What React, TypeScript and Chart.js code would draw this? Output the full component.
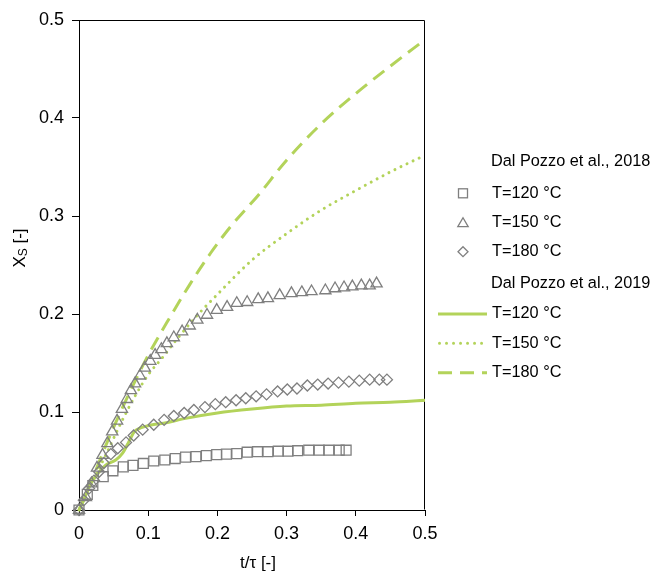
import { useEffect, useRef } from 'react';
import { Chart, registerables } from 'chart.js';

Chart.register(...registerables);

// ---- Data: Dal Pozzo et al., 2018 (experimental markers) ----
const sq120T = [0, 0.012, 0.02, 0.035, 0.049, 0.064, 0.078, 0.093, 0.108, 0.124, 0.139, 0.154, 0.169, 0.184, 0.199, 0.213, 0.228, 0.243, 0.258, 0.273, 0.288, 0.302, 0.316, 0.332, 0.347, 0.361, 0.376, 0.386];
const sq120X = [0, 0.016, 0.025, 0.034, 0.04, 0.044, 0.0455, 0.0475, 0.05, 0.051, 0.0525, 0.054, 0.0545, 0.0555, 0.0565, 0.057, 0.0575, 0.059, 0.0595, 0.0595, 0.06, 0.06, 0.0605, 0.061, 0.061, 0.061, 0.061, 0.061];

const tri150T = [0, 0.01, 0.018, 0.026, 0.034, 0.041, 0.048, 0.055, 0.062, 0.069, 0.075, 0.081, 0.088, 0.095, 0.103, 0.11, 0.119, 0.127, 0.137, 0.149, 0.16, 0.171, 0.185, 0.199, 0.214, 0.228, 0.243, 0.259, 0.273, 0.29, 0.307, 0.322, 0.336, 0.356, 0.37, 0.383, 0.395, 0.408, 0.42, 0.43];
const tri150X = [0, 0.013, 0.027, 0.043, 0.056, 0.068, 0.08, 0.091, 0.103, 0.113, 0.122, 0.129, 0.137, 0.145, 0.152, 0.158, 0.164, 0.17, 0.176, 0.182, 0.188, 0.194, 0.199, 0.204, 0.207, 0.211, 0.212, 0.215, 0.216, 0.219, 0.221, 0.222, 0.223, 0.224, 0.226, 0.227, 0.228, 0.229, 0.229, 0.231];

const dia180T = [0, 0.007, 0.0145, 0.0217, 0.029, 0.036, 0.046, 0.056, 0.068, 0.079, 0.092, 0.108, 0.123, 0.137, 0.152, 0.166, 0.182, 0.197, 0.212, 0.227, 0.241, 0.256, 0.271, 0.287, 0.301, 0.315, 0.33, 0.345, 0.36, 0.375, 0.39, 0.405, 0.42, 0.434, 0.445];
const dia180X = [0, 0.01, 0.022, 0.03, 0.039, 0.048, 0.057, 0.063, 0.069, 0.076, 0.082, 0.087, 0.092, 0.096, 0.099, 0.102, 0.105, 0.108, 0.11, 0.112, 0.114, 0.116, 0.118, 0.121, 0.123, 0.124, 0.127, 0.128, 0.129, 0.13, 0.131, 0.132, 0.133, 0.133, 0.133];

// ---- Data: Dal Pozzo et al., 2019 (model curves) ----
const m120T = [0, 0.005, 0.015, 0.025, 0.039, 0.053, 0.063, 0.073, 0.08, 0.09, 0.106, 0.126, 0.15, 0.2, 0.25, 0.3, 0.35, 0.4, 0.45, 0.5];
const m120X = [0, 0.007, 0.024, 0.035, 0.046, 0.051, 0.058, 0.071, 0.08, 0.084, 0.087, 0.089, 0.093, 0.099, 0.103, 0.106, 0.107, 0.109, 0.11, 0.112];

const m150T = [0, 0.02, 0.04, 0.06, 0.08, 0.1, 0.12, 0.14, 0.17, 0.2, 0.25, 0.3, 0.35, 0.4, 0.45, 0.5];
const m150X = [0, 0.03, 0.058, 0.088, 0.115, 0.138, 0.155, 0.173, 0.198, 0.22, 0.255, 0.282, 0.306, 0.326, 0.345, 0.362];

const m180T = [0, 0.02, 0.04, 0.06, 0.08, 0.1, 0.13, 0.16, 0.19, 0.22, 0.26, 0.3, 0.35, 0.4, 0.45, 0.5];
const m180X = [0, 0.033, 0.068, 0.1, 0.13, 0.158, 0.195, 0.23, 0.262, 0.29, 0.322, 0.357, 0.394, 0.425, 0.453, 0.48];

// ---- Text ----
const groupTitles = ['Dal Pozzo et al., 2018', 'Dal Pozzo et al., 2019'];
const seriesLabels = ['T=120 °C', 'T=150 °C', 'T=180 °C'];
const axisMin = 0;
const axisMax = 0.5;
const axisStep = 0.1;

const GREY = '#7f7f7f';
const GREEN = '#b3d35a';
const FONT = '"Liberation Sans", Arial, sans-serif';

const W = 648;
const H = 567;

if (typeof document !== 'undefined') {
  document.body.style.margin = '8px 0 0 8px';
}

const pts = (xs: number[], ys: number[]) => xs.map((x, i) => ({ x, y: ys[i] }));

const framePlugin = {
  id: 'frame',
  beforeDatasetsDraw(chart: any) {
    const { ctx, chartArea } = chart;
    ctx.save();
    ctx.strokeStyle = '#000';
    ctx.lineWidth = 1;
    ctx.beginPath();
    const l = Math.round(chartArea.left) + 0.5;
    const r = Math.round(chartArea.right) - 0.5;
    const t = Math.round(chartArea.top) + 0.5;
    const b = Math.round(chartArea.bottom) - 0.5;
    ctx.moveTo(l, t);
    ctx.lineTo(r, t);
    ctx.lineTo(r, b);
    ctx.stroke();
    ctx.restore();
  },
  afterDraw(chart: any) {
    const { ctx, chartArea } = chart;
    ctx.save();
    // axis titles
    ctx.fillStyle = '#000';
    ctx.textBaseline = 'middle';
    ctx.textAlign = 'center';
    ctx.font = `17px ${FONT}`;
    ctx.fillText('t/τ [-]', (chartArea.left + chartArea.right) / 2 + 6, 555);

    // Y title with subscript
    ctx.save();
    ctx.translate(12, 240);
    ctx.rotate(-Math.PI / 2);
    ctx.textAlign = 'left';
    const big = `17px ${FONT}`;
    const small = `12px ${FONT}`;
    ctx.font = big;
    const wX = ctx.measureText('X').width;
    const wRest = ctx.measureText(' [-]').width;
    ctx.font = small;
    const wS = ctx.measureText('S').width;
    let x0 = -(wX + wS + wRest) / 2;
    ctx.font = big;
    ctx.fillText('X', x0, 0);
    x0 += wX;
    ctx.font = small;
    ctx.fillText('S', x0, 4);
    x0 += wS;
    ctx.font = big;
    ctx.fillText(' [-]', x0, 0);
    ctx.restore();

    // legend
    const rows = [153.7, 185.3, 214.7, 243.7, 275.3, 306, 335.3, 364.7];
    const textX = 484;
    const markX = 455;
    ctx.font = `16.3px ${FONT}`;
    ctx.textAlign = 'left';
    ctx.textBaseline = 'middle';
    ctx.fillStyle = '#000';
    ctx.fillText(groupTitles[0], 483, rows[0]);
    ctx.fillText(groupTitles[1], 483, rows[4]);
    for (let i = 0; i < 3; i++) {
      ctx.fillText(seriesLabels[i], textX, rows[1 + i]);
      ctx.fillText(seriesLabels[i], textX, rows[5 + i]);
    }
    // markers
    ctx.strokeStyle = GREY;
    ctx.lineWidth = 1.3;
    ctx.setLineDash([]);
    ctx.strokeRect(markX - 4.5, rows[1] - 4.5, 9, 9);
    {
      const r = 6, cy = rows[2] + 1;
      ctx.beginPath();
      ctx.moveTo(markX, cy - r);
      ctx.lineTo(markX + 0.866 * r, cy + 0.5 * r);
      ctx.lineTo(markX - 0.866 * r, cy + 0.5 * r);
      ctx.closePath();
      ctx.stroke();
    }
    {
      const r = 5, cy = rows[3];
      ctx.beginPath();
      ctx.moveTo(markX, cy - r);
      ctx.lineTo(markX + r, cy);
      ctx.lineTo(markX, cy + r);
      ctx.lineTo(markX - r, cy);
      ctx.closePath();
      ctx.stroke();
    }
    // lines
    ctx.strokeStyle = GREEN;
    ctx.lineWidth = 3;
    const lx0 = 430, lx1 = 479;
    ctx.lineCap = 'butt';
    ctx.beginPath();
    ctx.moveTo(lx0, rows[5]);
    ctx.lineTo(lx1, rows[5]);
    ctx.stroke();
    ctx.setLineDash([0.01, 7]);
    ctx.lineCap = 'round';
    ctx.beginPath();
    ctx.moveTo(lx0 + 1.5, rows[6]);
    ctx.lineTo(lx1, rows[6]);
    ctx.stroke();
    ctx.setLineDash([14, 8]);
    ctx.lineCap = 'butt';
    ctx.beginPath();
    ctx.moveTo(lx0, rows[7]);
    ctx.lineTo(lx1, rows[7]);
    ctx.stroke();
    ctx.restore();
  },
};

export default function App() {
  const ref = useRef<HTMLCanvasElement | null>(null);
  useEffect(() => {
    if (!ref.current) return;
    const markerBase = {
      type: 'scatter' as const,
      showLine: false,
      borderColor: GREY,
      backgroundColor: 'rgba(0,0,0,0)',
      borderWidth: 1.3,
      clip: false as any,
    };
    const lineBase = {
      type: 'line' as const,
      borderColor: GREEN,
      backgroundColor: GREEN,
      borderWidth: 3,
      pointRadius: 0,
      fill: false,
      cubicInterpolationMode: 'monotone' as const,
      clip: false as any,
    };
    const chart = new Chart(ref.current, {
      type: 'scatter',
      data: {
        datasets: [
          { ...markerBase, label: 'Dal Pozzo 2018 ' + seriesLabels[0], data: pts(sq120T, sq120X), pointStyle: 'rect', pointRadius: 7 },
          { ...markerBase, label: 'Dal Pozzo 2018 ' + seriesLabels[1], data: pts(tri150T, tri150X), pointStyle: 'triangle', pointRadius: 6.5 },
          { ...markerBase, label: 'Dal Pozzo 2018 ' + seriesLabels[2], data: pts(dia180T, dia180X), pointStyle: 'rectRot', pointRadius: 5.5 },
          { ...lineBase, label: 'Dal Pozzo 2019 ' + seriesLabels[0], data: pts(m120T, m120X) },
          { ...lineBase, label: 'Dal Pozzo 2019 ' + seriesLabels[1], data: pts(m150T, m150X), borderDash: [0.01, 6.7], borderCapStyle: 'round' },
          { ...lineBase, label: 'Dal Pozzo 2019 ' + seriesLabels[2], data: pts(m180T, m180X), borderDash: [14, 8] },
        ] as any,
      },
      options: {
        animation: false,
        responsive: false,
        maintainAspectRatio: false,
        layout: { padding: { top: 12, right: W - 417, left: 0, bottom: 0 } },
        plugins: { legend: { display: false }, tooltip: { enabled: false } },
        scales: {
          x: {
            type: 'linear',
            min: axisMin,
            max: axisMax,
            afterFit: (s: any) => { s.height = H - 502; s.paddingLeft = 0; s.paddingRight = 0; },
            ticks: {
              stepSize: axisStep,
              color: '#000',
              font: { family: FONT, size: 18 },
              padding: 7,
              maxRotation: 0,
              callback: (v: any) => (Number(v) === 0 ? '0' : Number(v).toFixed(1)),
            },
            grid: { display: true, drawOnChartArea: false, drawTicks: true, tickLength: 6, color: '#000', lineWidth: 1 },
            border: { display: true, color: '#000', width: 1 },
          },
          y: {
            type: 'linear',
            min: axisMin,
            max: axisMax,
            afterFit: (s: any) => { s.width = 71; s.paddingTop = 0; s.paddingBottom = 0; },
            ticks: {
              stepSize: axisStep,
              color: '#000',
              font: { family: FONT, size: 18 },
              padding: 8,
              callback: (v: any) => (Number(v) === 0 ? '0' : Number(v).toFixed(1)),
            },
            grid: { display: true, drawOnChartArea: false, drawTicks: true, tickLength: 7, color: '#000', lineWidth: 1 },
            border: { display: true, color: '#000', width: 1 },
          },
        },
      } as any,
      plugins: [framePlugin],
    });
    return () => chart.destroy();
  }, []);
  return (
    <div style={{ width: W, height: H }}>
      <canvas ref={ref} width={W} height={H} style={{ display: 'block', width: W, height: H }} />
    </div>
  );
}
